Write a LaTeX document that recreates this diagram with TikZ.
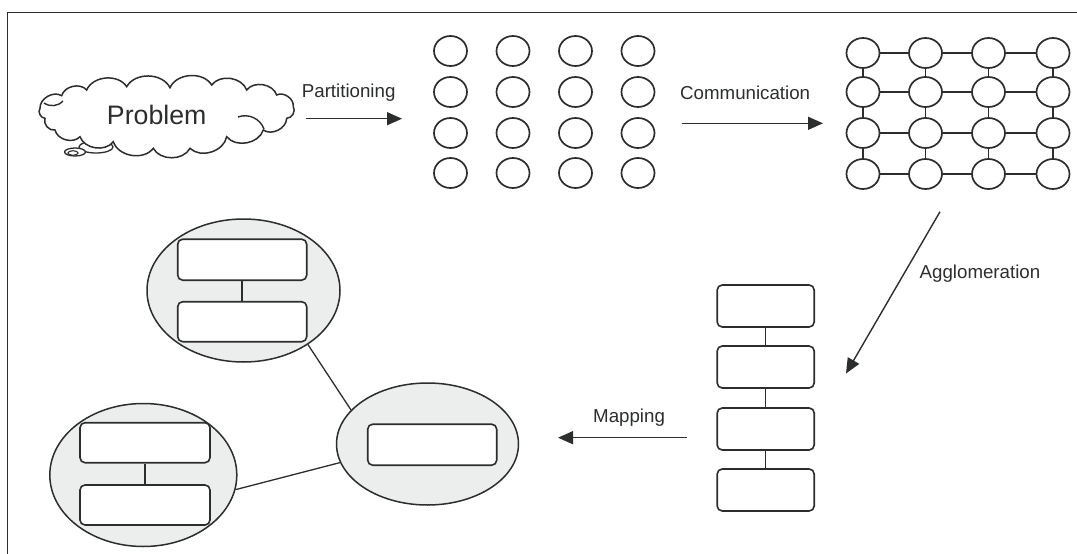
\documentclass[tikz,border=0pt]{standalone}
\usepackage{fontspec}
\setmainfont{Liberation Sans}
\usetikzlibrary{arrows.meta,shapes.geometric}

\definecolor{ink}{HTML}{2B2E2D}
\definecolor{blobfill}{HTML}{ECEDED}

\tikzset{
  frameline/.style={draw=ink, line width=1.5pt},
  dot/.style={ellipse, draw=ink, line width=1.7pt, fill=white,
              minimum width=33pt, minimum height=30pt, inner sep=0pt},
  link/.style={draw=ink, line width=1.5pt},
  stagearrow/.style={draw=ink, line width=1.4pt,
                     -{Triangle[length=15pt,width=13pt]}},
  steplabel/.style={font=\fontsize{18.7pt}{20pt}\selectfont, text=ink,
                    anchor=base west, inner sep=0pt},
  taskbox/.style={draw=ink, line width=1.6pt, fill=white, rounded corners=5pt,
                  inner sep=0pt},
  blob/.style={ellipse, draw=ink, line width=1.5pt, fill=blobfill,
               inner sep=0pt},
  wire/.style={draw=ink, line width=1.3pt},
  bubble/.style={ellipse, draw=ink, line width=1.3pt, fill=white, inner sep=0pt},
  puff/.style={bend left=62},
}

\begin{document}
\begin{tikzpicture}[x=1pt, y=-1pt]
\useasboundingbox (0,0) rectangle (1077,554);

% frame
\draw[frameline] (7.3,554) -- (7.3,12.7) -- (1077,12.7);

% thought bubbles under the cloud
\node[bubble, minimum width=34pt, minimum height=12pt] (bubbleA) at (96,147) {};
\node[bubble, minimum width=21pt, minimum height=8pt] (bubbleB) at (75,152) {};
\node[bubble, line width=1.1pt, minimum width=10pt, minimum height=4.5pt] (bubbleC) at (73,153) {};

% problem cloud
\draw[draw=ink, line width=1.5pt, fill=white]
  (61.7,95.7) to[puff] (86.7,90) to[puff] (126.7,86.7) to[puff] (170,87.7)
  to[puff] (211.7,85) to[puff] (246.7,90) to[puff] (276.7,95)
  to[puff] (293.3,106.7) to[puff] (286.7,118.3) to[puff] (263.3,130)
  to[puff] (226.7,136.7) to[puff] (190,148.3) to[puff] (153.3,148.3)
  to[puff] (113.3,141.7) to[puff] (80,136.7) to[puff] (55,130)
  to[puff] (45,118.3) to[puff] (40,108.3) to[puff] cycle;
% curls inside the cloud outline
\draw[draw=ink, line width=1.4pt] (44,103) to[bend right=40] (63,101);
\draw[draw=ink, line width=1.4pt] (238,117) to[bend left=45] (264,129);
\node[font=\fontsize{26.7pt}{28pt}\selectfont, text=ink, inner sep=0pt]
      (problem) at (156.7,114.5) {Problem};

% partitioning
\coordinate (p1) at (306,118.7);
\coordinate (p2) at (402,118.7);
\draw[stagearrow] (p1) -- (p2);
\node[steplabel] (lpart) at (301.7,97) {Partitioning};

% fine-grained tasks
\foreach \r/\y in {1/51,2/92,3/133,4/173}{
  \foreach \c/\x in {1/450.5,2/513,3/575.5,4/638}{
    \node[dot] (a-\r-\c) at (\x,\y) {};
  }
}

% communication
\coordinate (c1) at (681.7,123.3);
\coordinate (c2) at (823,123.3);
\draw[stagearrow] (c1) -- (c2);
\node[steplabel] (lcomm) at (680,99.3) {Communication};

% task graph with channels
\foreach \r/\y in {1/53,2/92,3/133,4/174}{
  \foreach \c/\x in {1/863,2/925.5,3/988.5,4/1053}{
    \node[dot] (b-\r-\c) at (\x,\y) {};
  }
}
\foreach \r in {1,...,4}{
  \draw[link] (b-\r-1) -- (b-\r-2);
  \draw[link] (b-\r-2) -- (b-\r-3);
  \draw[link] (b-\r-3) -- (b-\r-4);
}
\foreach \c in {1,...,4}{
  \draw[link] (b-1-\c) -- (b-2-\c);
  \draw[link] (b-2-\c) -- (b-3-\c);
  \draw[link] (b-3-\c) -- (b-4-\c);
}

% agglomeration
\coordinate (g1) at (940,211.7);
\coordinate (g2) at (846,373.5);
\draw[stagearrow] (g1) -- (g2);
\node[steplabel] (lagg) at (919.5,278.3) {Agglomeration};

% coarse-grained tasks
\foreach \i/\y in {1/306,2/367,3/429,4/490}{
  \node[taskbox, minimum width=97pt, minimum height=42pt] (k\i) at (765.7,\y) {};
}
\draw[link] (k1) -- (k2);
\draw[link] (k2) -- (k3);
\draw[link] (k3) -- (k4);

% mapping
\coordinate (m1) at (686.6,437.7);
\coordinate (m2) at (558,437.7);
\draw[stagearrow] (m1) -- (m2);
\node[steplabel] (lmap) at (593,422.7) {Mapping};

% processors
\node[blob, minimum width=193pt, minimum height=143pt] (procT) at (243.5,290.5) {};
\node[blob, minimum width=187pt, minimum height=143pt] (procL) at (143.3,475) {};
\node[blob, minimum width=182pt, minimum height=122pt] (procR) at (427.5,444) {};

\node[taskbox, minimum width=129pt, minimum height=41pt] (t1) at (242.2,259.7) {};
\node[taskbox, minimum width=129pt, minimum height=40pt] (t2) at (242.2,321.7) {};
\draw[link] (t1) -- (t2);

\node[taskbox, minimum width=130pt, minimum height=40pt] (l1) at (145,442.7) {};
\node[taskbox, minimum width=130pt, minimum height=40pt] (l2) at (145,505) {};
\draw[link] (l1) -- (l2);

\node[taskbox, minimum width=129pt, minimum height=41pt] (r1) at (432.2,444.7) {};

\draw[wire] (procT.-40) -- (procR.156);
\draw[wire] (procL.-9) -- (procR.-168);

\end{tikzpicture}
\end{document}
